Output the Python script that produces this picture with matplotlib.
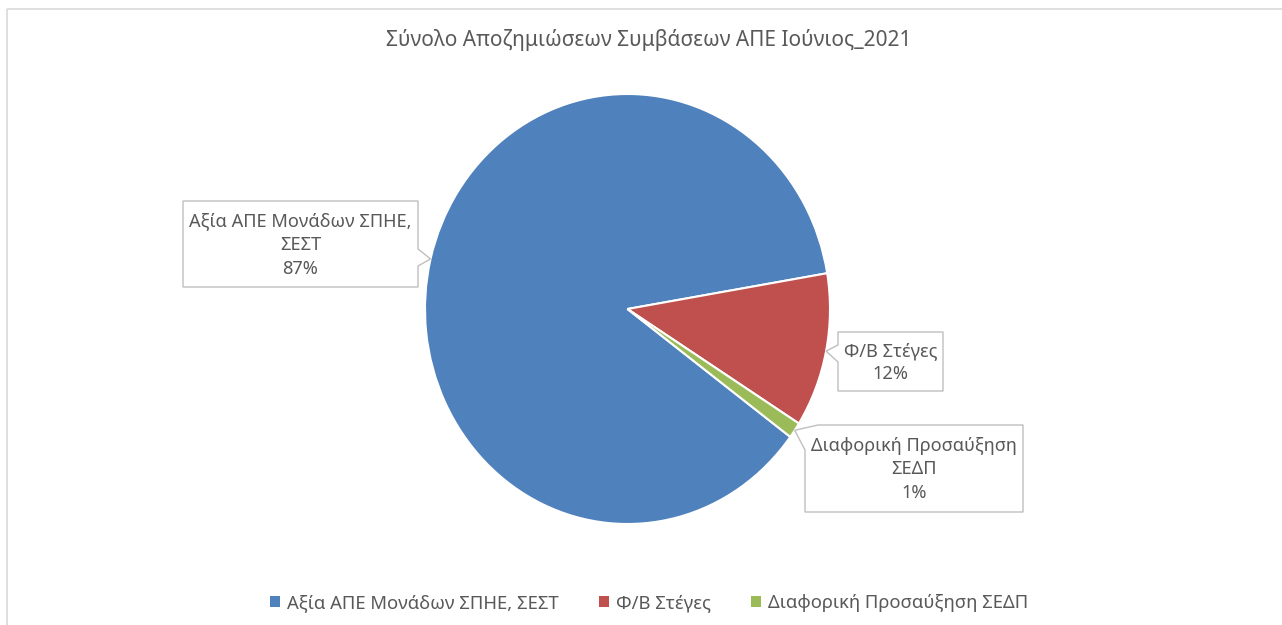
import matplotlib.pyplot as plt
from matplotlib.patches import Polygon, Rectangle, Patch

plt.rcParams['font.family'] = ['Noto Sans', 'DejaVu Sans']

title = 'Σύνολο Αποζημιώσεων Συμβάσεων ΑΠΕ Ιούνιος_2021'
categories = ['Αξία ΑΠΕ Μονάδων ΣΠΗΕ, ΣΕΣΤ', 'Φ/Β Στέγες', 'Διαφορική Προσαύξηση ΣΕΔΠ']
box_lines = [['Αξία ΑΠΕ Μονάδων ΣΠΗΕ,', 'ΣΕΣΤ'], ['Φ/Β Στέγες'], ['Διαφορική Προσαύξηση', 'ΣΕΔΠ']]
values = [87.2, 11.6, 1.2]
colors = ['#4F81BD', '#C0504D', '#9BBB59']

TXT = '#595959'
W, H = 1282, 625

fig = plt.figure(figsize=(W / 100, H / 100), dpi=100)

# pie axes (pixel box 425..830 x 94..524)
ax = fig.add_axes([425 / W, 1 - 524 / H, 405 / W, 430 / H])
wedges, _ = ax.pie(values, colors=colors, startangle=-36.5, counterclock=False,
                   wedgeprops=dict(edgecolor='white', linewidth=1.5))
ax.set_aspect('auto')
ax.set_xlim(-1, 1)
ax.set_ylim(-1, 1)
ax.axis('off')

# overlay in pixel coordinates for frame, title and callouts
ov = fig.add_axes([0, 0, 1, 1], zorder=5)
ov.set_xlim(0, W)
ov.set_ylim(H, 0)
ov.axis('off')
ov.patch.set_alpha(0)

ov.add_patch(Rectangle((7, 9), W, H, fill=False, edgecolor='#D9D9D9', linewidth=1.2))
ov.text(649, 40, title, ha='center', va='center', fontsize=15, color=TXT)

fig.canvas.draw()


def apex_of(w, r=1.0):
    import numpy as np
    mid = np.deg2rad((w.theta1 + w.theta2) / 2)
    xd, yd = ax.transData.transform((r * np.cos(mid), r * np.sin(mid)))
    return xd, H - yd


# callout boxes: (x0, y0, x1, y1) and pointer attachment points
boxes = [
    ((183, 201, 418, 287), lambda b, a: [(b[0], b[1]), (b[2], b[1]), (b[2], 249), a, (b[2], 266), (b[2], b[3]), (b[0], b[3])]),
    ((838, 332, 943, 391), lambda b, a: [(b[0], b[1]), (b[2], b[1]), (b[2], b[3]), (b[0], b[3]), (b[0], 362), a, (b[0], 345)]),
    ((805, 425, 1023, 512), lambda b, a: [(818, b[1]), (b[2], b[1]), (b[2], b[3]), (b[0], b[3]), (b[0], 450), a]),
]

for w, lines, v, (b, shape) in zip(wedges, box_lines, values, boxes):
    a = apex_of(w)
    ov.add_patch(Polygon(shape(b, a), closed=True, facecolor='white',
                         edgecolor='#BFBFBF', linewidth=1.0))
    txt = '\n'.join(lines + ['%d%%' % round(v)])
    ov.text((b[0] + b[2]) / 2, (b[1] + b[3]) / 2 + 1, txt, ha='center', va='center',
            fontsize=13.1, color=TXT, linespacing=1.4)

handles = [Patch(facecolor=c, edgecolor='none') for c in colors]
fig.legend(handles, categories, loc='center', bbox_to_anchor=(649 / W, 1 - 603 / H),
           ncol=3, frameon=False, fontsize=13.3, labelcolor=TXT,
           handlelength=0.55, handleheight=0.55, handletextpad=0.35, columnspacing=2.2)

fig.savefig('out.png', dpi=100, facecolor='white')
